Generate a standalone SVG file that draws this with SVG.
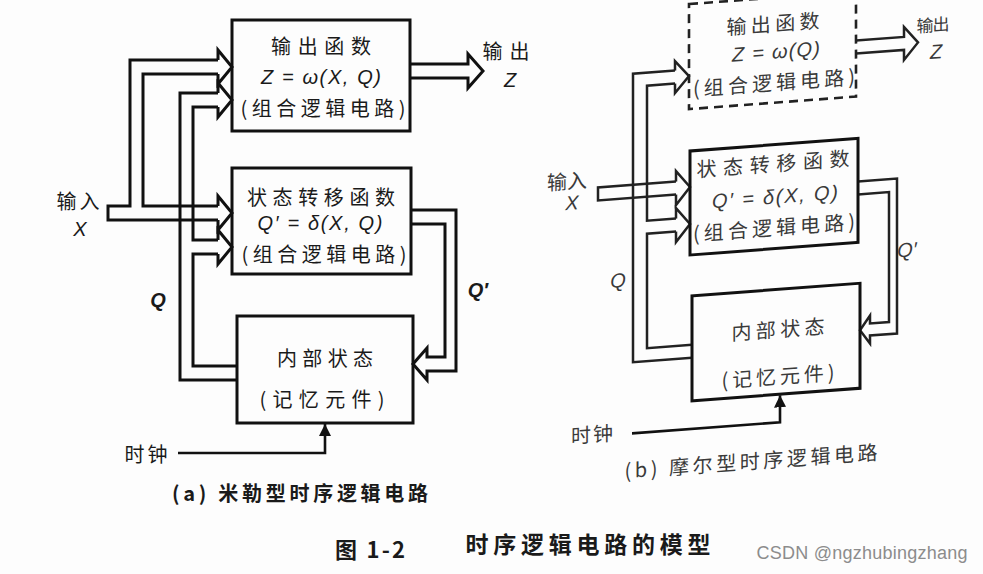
<svg xmlns="http://www.w3.org/2000/svg" width="983" height="574" viewBox="0 0 983 574">
<style>
.box{fill:none;stroke:#111;stroke-width:3}
.dash{fill:none;stroke:#222;stroke-width:2.6;stroke-dasharray:9 6}
.bus{fill:none;stroke:#111;stroke-width:3;stroke-linejoin:miter}
.busb{fill:none;stroke:#222;stroke-width:2.5;stroke-linejoin:miter}
.wire{fill:none;stroke:#111;stroke-width:2.6}
.t{font-family:"Noto Sans CJK SC","Liberation Sans",sans-serif;font-size:20px;fill:#1a1a1a;text-anchor:middle;dominant-baseline:central}
.tb{font-family:"Noto Sans CJK SC","Liberation Sans",sans-serif;font-size:20px;fill:#3a3a3a;text-anchor:middle;dominant-baseline:central}
.m{font-family:"Liberation Sans","Noto Sans CJK SC",sans-serif;font-style:italic}
.bold{font-weight:bold}
</style>
<defs>
<marker id="clk" markerUnits="userSpaceOnUse" markerWidth="12" markerHeight="12" refX="10" refY="5" orient="auto" viewBox="0 0 10 10">
<path d="M0,0 L10,5 L0,10 z" fill="#111"/>
</marker>
</defs>
<rect x="0" y="0" width="983" height="574" fill="#fdfdfd"/>

<!-- Diagram (a) -->
<g id="diagram-a">
<g id="connectors-a">
<path class="bus" d="M218,60 H130 V206 H108 V220 H218"/>
<path class="bus" d="M218,74 H143 V206 H218"/>
<path class="bus" d="M218,60 V50 L232,67 L218,84 V74"/>
<path class="bus" d="M218,206 V196 L232,213 L218,230 V220"/>
<path class="bus" d="M218,93 H180 V380 H237"/>
<path class="bus" d="M218,107 H193 V240 H218"/>
<path class="bus" d="M218,254 H193 V366 H237"/>
<path class="bus" d="M218,93 V83 L232,100 L218,117 V107"/>
<path class="bus" d="M218,240 V230 L232,247 L218,264 V254"/>
<path class="bus" d="M410,64 H468 V54 L483,71 L468,88 V78 H410"/>
<path class="bus" d="M411,210 H456 V371 H427 V380 L413,364 L427,348 V357 H445 V224 H411"/>
<path class="wire" d="M178,453 H325 V424" marker-end="url(#clk)"/>
</g>
<g id="a-output">
<rect class="box" x="232" y="20" width="178" height="111"/>
<text class="t" x="321" y="45" textLength="100" lengthAdjust="spacing">输出函数</text>
<text class="t m" x="321" y="77" textLength="120" lengthAdjust="spacing">Z = ω(X, Q)</text>
<text class="t" x="323" y="107" textLength="165" lengthAdjust="spacing">(组合逻辑电路)</text>
</g>
<g id="a-state">
<rect class="box" x="232" y="168" width="179" height="106"/>
<text class="t" x="321" y="196" textLength="148" lengthAdjust="spacing">状态转移函数</text>
<text class="t m" x="320" y="223" textLength="125" lengthAdjust="spacing">Q′ = δ(X, Q)</text>
<text class="t" x="324" y="253" textLength="165" lengthAdjust="spacing">(组合逻辑电路)</text>
</g>
<g id="a-memory">
<rect class="box" x="237" y="316" width="176" height="107"/>
<text class="t" x="325" y="357" textLength="96" lengthAdjust="spacing">内部状态</text>
<text class="t" x="322" y="398" textLength="125" lengthAdjust="spacing">(记忆元件)</text>
</g>
<g id="a-labels">
<text class="t" x="506" y="50" textLength="47" lengthAdjust="spacing">输出</text>
<text class="t m" x="510" y="80">Z</text>
<text class="t" x="78" y="200" textLength="43" lengthAdjust="spacing">输入</text>
<text class="t m" x="80" y="229">X</text>
<text class="t m bold" x="158" y="300">Q</text>
<text class="t m bold" x="478" y="290">Q′</text>
<text class="t" x="146" y="453" textLength="43" lengthAdjust="spacing">时钟</text>
<text class="t bold" x="300" y="492" textLength="256" lengthAdjust="spacing">(a) 米勒型时序逻辑电路</text>
</g>
</g>

<!-- Diagram (b) -->
<g id="diagram-b" transform="matrix(1,-0.075,0,1,0,51.75)">
<g id="connectors-b">
<path class="busb" d="M675,69.5 H633 V358 H692"/>
<path class="busb" d="M675,82.5 H647 V217.5 H676"/>
<path class="busb" d="M676,230.5 H647 V345 H692"/>
<path class="busb" d="M675,69.5 V60 L689,76 L675,92 V82.5"/>
<path class="busb" d="M676,180.5 H598 V193.5 H676"/>
<path class="busb" d="M676,180.5 V170 L690,187 L676,204 V193.5"/>
<path class="busb" d="M676,217.5 V207 L690,224 L676,241 V230.5"/>
<path class="busb" d="M856,53 H904 V43 L918,59.5 L904,76 V66 H856"/>
<path class="busb" d="M858,194 H897 V349 H870 V357 L860,343 L870,329 V337 H889 V207 H858"/>
<path class="wire" d="M632,429 H780 V402" marker-end="url(#clk)"/>
</g>
<g id="b-output">
<rect class="dash" x="689" y="4" width="167" height="105"/>
<text class="tb" x="773" y="29" textLength="93" lengthAdjust="spacing">输出函数</text>
<text class="tb m" x="776" y="58" textLength="88" lengthAdjust="spacing">Z = ω(Q)</text>
<text class="tb" x="774" y="88" textLength="162" lengthAdjust="spacing">(组合逻辑电路)</text>
</g>
<g id="b-state">
<rect class="box" x="690" y="151" width="168" height="104"/>
<text class="tb" x="773" y="169" textLength="153" lengthAdjust="spacing">状态转移函数</text>
<text class="tb m" x="775" y="203" textLength="126" lengthAdjust="spacing">Q′ = δ(X, Q)</text>
<text class="tb" x="774" y="233" textLength="162" lengthAdjust="spacing">(组合逻辑电路)</text>
</g>
<g id="b-memory">
<rect class="box" x="692" y="296" width="168" height="105"/>
<text class="tb" x="778" y="335" textLength="93" lengthAdjust="spacing">内部状态</text>
<text class="tb" x="778" y="382" textLength="113" lengthAdjust="spacing">(记忆元件)</text>
</g>
<g id="b-labels">
<text class="tb" x="933" y="42" textLength="33" lengthAdjust="spacing" style="font-size:17px">输出</text>
<text class="tb m" x="936" y="70">Z</text>
<text class="tb" x="567" y="171" textLength="40" lengthAdjust="spacing">输入</text>
<text class="tb m" x="572" y="194">X</text>
<text class="tb m" x="618" y="275">Q</text>
<text class="tb m" x="907" y="266">Q′</text>
<text class="tb" x="592" y="426" textLength="42" lengthAdjust="spacing">时钟</text>
<text class="tb" x="751" y="465" textLength="253" lengthAdjust="spacing">(b) 摩尔型时序逻辑电路</text>
</g>
</g>

<g id="figure-caption">
<text class="t bold" x="370" y="548" style="font-size:22px" textLength="70" lengthAdjust="spacing">图 1-2</text>
<text class="t bold" x="588" y="543" style="font-size:23px" textLength="245" lengthAdjust="spacing">时序逻辑电路的模型</text>
<text x="862" y="559" font-family="Liberation Sans, sans-serif" font-size="18" fill="#8c8c8c" text-anchor="middle" textLength="211" lengthAdjust="spacing">CSDN @ngzhubingzhang</text>
</g>
</svg>
